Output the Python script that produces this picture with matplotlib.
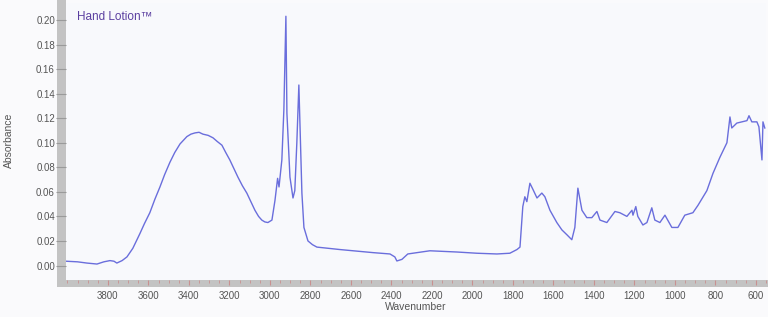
import matplotlib.pyplot as plt
from matplotlib.patches import Rectangle
from matplotlib.ticker import MultipleLocator

plt.rcParams['font.family'] = ['Liberation Sans', 'DejaVu Sans']

# FTIR spectrum
wavenumber = [4007, 3950, 3904, 3854, 3820, 3790, 3770, 3756, 3730, 3706,
              3677, 3642, 3620, 3593, 3568, 3543, 3520, 3494, 3470, 3444,
              3427, 3410, 3390, 3370, 3350, 3331, 3305, 3281, 3260, 3237,
              3218, 3198, 3178, 3158, 3136, 3114, 3094, 3074, 3056, 3040,
              3025, 3010, 2990, 2975, 2962,
              2955, 2941, 2931, 2921, 2916, 2901, 2886, 2877, 2867, 2857,
              2852, 2842, 2832, 2812, 2790, 2768, 2654, 2491, 2407, 2383, 2373,
              2348, 2319, 2210, 2077, 1978, 1879, 1815, 1780, 1765, 1751,
              1741, 1731, 1716, 1701, 1681, 1657, 1642, 1617, 1583, 1558,
              1533, 1509, 1494, 1479, 1459, 1435, 1410, 1385, 1370, 1336,
              1296, 1272, 1237, 1212, 1207, 1193, 1183, 1158, 1138, 1114,
              1099, 1074, 1049, 1015, 985, 951, 911, 886, 842, 812,
              778, 743, 728, 719, 694, 644, 634, 620, 595, 585,
              570, 565, 556]
absorbance = [0.0035, 0.003, 0.002, 0.0012, 0.003, 0.004, 0.0035, 0.002, 0.004, 0.007,
              0.014, 0.026, 0.034, 0.043, 0.054, 0.064, 0.074, 0.084, 0.092, 0.099,
              0.102, 0.105, 0.107, 0.108, 0.1085, 0.107, 0.106, 0.104, 0.101, 0.098,
              0.092, 0.086, 0.079, 0.072, 0.065, 0.059, 0.052, 0.045, 0.040, 0.037,
              0.0355, 0.035, 0.037, 0.053, 0.071,
              0.064, 0.086, 0.127, 0.203, 0.124, 0.072, 0.055, 0.061, 0.100, 0.147,
              0.118, 0.059, 0.031, 0.020, 0.017, 0.015, 0.013, 0.0105, 0.0094, 0.007, 0.0037,
              0.005, 0.0094, 0.012, 0.011, 0.010, 0.0094, 0.010, 0.013, 0.015, 0.048,
              0.056, 0.052, 0.067, 0.062, 0.055, 0.059, 0.056, 0.045, 0.035, 0.029,
              0.025, 0.021, 0.031, 0.063, 0.045, 0.039, 0.039, 0.044, 0.037, 0.035,
              0.044, 0.043, 0.040, 0.045, 0.041, 0.048, 0.040, 0.033, 0.035, 0.047,
              0.037, 0.035, 0.041, 0.031, 0.031, 0.041, 0.043, 0.049, 0.061, 0.075,
              0.088, 0.100, 0.121, 0.112, 0.116, 0.118, 0.122, 0.117, 0.117, 0.113,
              0.086, 0.117, 0.112]

xticks = [3800, 3600, 3400, 3200, 3000, 2800, 2600, 2400, 2200, 2000,
          1800, 1600, 1400, 1200, 1000, 800, 600]
yticks = [0.00, 0.02, 0.04, 0.06, 0.08, 0.10, 0.12, 0.14, 0.16, 0.18, 0.20]

W, H = 768, 317
fig = plt.figure(figsize=(W / 100, H / 100), dpi=100)
fig.patch.set_facecolor('#fafafc')

# axes box in pixels: x 66..766, y 3..280 (from top)
ax = fig.add_axes([66 / W, (H - 280) / H, 700 / W, 277 / H])
ax.set_facecolor('#f8f9fc')

ax.plot(wavenumber, absorbance, color='#6a6edc', lw=1.0)

ax.set_xlim(4007, 550)
ax.set_ylim(-0.0118, 0.2138)

for s in ax.spines.values():
    s.set_visible(False)

# gray bars along the left and bottom edges
ax.add_patch(Rectangle((-9 / 700, -7 / 277), 9 / 700, 1 + 10 / 277,
                       transform=ax.transAxes, clip_on=False,
                       facecolor='#c3c3c3', edgecolor='none', zorder=0.5))
ax.add_patch(Rectangle((-9 / 700, -7 / 277), 1 + 11 / 700, 7 / 277,
                       transform=ax.transAxes, clip_on=False,
                       facecolor='#c3c3c3', edgecolor='none', zorder=0.5))

ax.set_xticks(xticks)
ax.set_xticklabels([str(v) for v in xticks])
ax.xaxis.set_minor_locator(MultipleLocator(50))
ax.tick_params(axis='x', which='major', direction='out', length=3.5, width=0.8,
               color='#c89090', pad=4.5, labelsize=7, labelcolor='#555555')
ax.tick_params(axis='x', which='minor', direction='out', length=2, width=0.6,
               color='#c89090')

ax.set_yticks(yticks)
ax.set_yticklabels(['%.2f' % v for v in yticks])
ax.tick_params(axis='y', direction='out', length=7, width=0.8, color='#9a9a9a',
               pad=1, labelsize=7, labelcolor='#555555')

ax.set_xlabel('Wavenumber', fontsize=7.5, color='#555555', labelpad=1)
fig.text(9 / W, 1 - 140 / H, 'Absorbance', rotation=90, fontsize=7.5,
         color='#555555', ha='center', va='center')

ax.text(11 / 700, 1 - 14 / 277, 'Hand Lotion™', transform=ax.transAxes,
        fontsize=8.5, color='#5b3fa0', ha='left', va='center')

fig.savefig('out.png', dpi=100, facecolor=fig.get_facecolor())
